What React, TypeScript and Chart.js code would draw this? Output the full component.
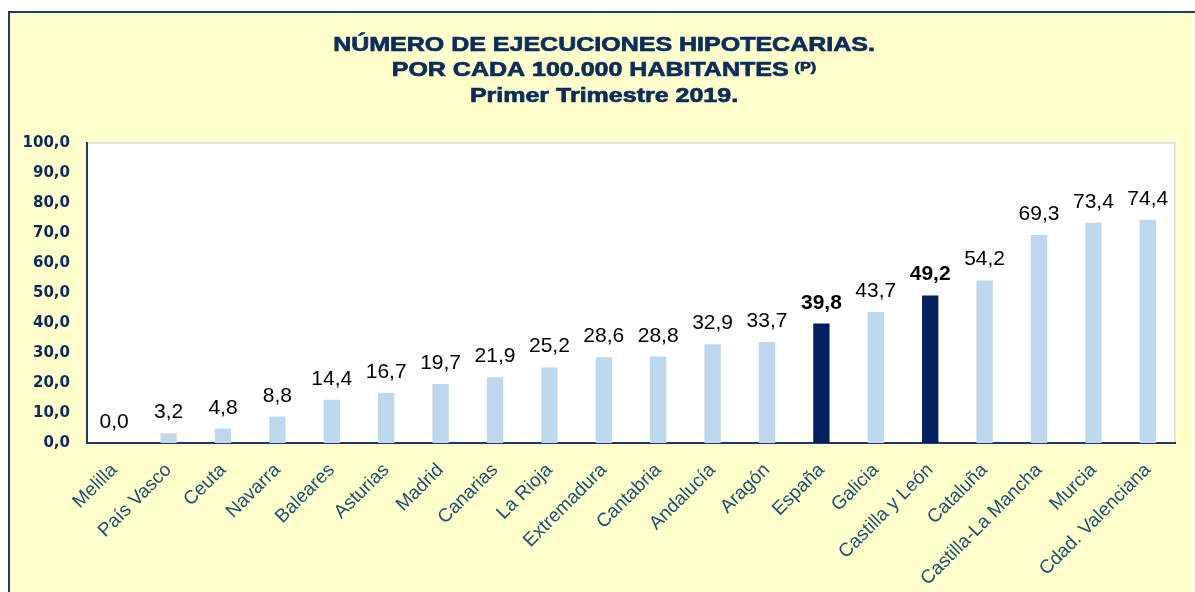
import React, { useEffect, useRef } from "react";
import { Chart, registerables } from "chart.js";

Chart.register(...registerables);

const categories = [
  "Melilla", "País Vasco", "Ceuta", "Navarra", "Baleares", "Asturias", "Madrid",
  "Canarias", "La Rioja", "Extremadura", "Cantabria", "Andalucía", "Aragón",
  "España", "Galicia", "Castilla y León", "Cataluña", "Castilla-La Mancha",
  "Murcia", "Cdad. Valenciana",
];
const values = [
  0.0, 3.2, 4.8, 8.8, 14.4, 16.7, 19.7, 21.9, 25.2, 28.6, 28.8, 32.9, 33.7,
  39.8, 43.7, 49.2, 54.2, 69.3, 73.4, 74.4,
];
const highlighted = ["España", "Castilla y León"];
const yTicks = [0, 10, 20, 30, 40, 50, 60, 70, 80, 90, 100];
const titleLines = ["NÚMERO DE EJECUCIONES HIPOTECARIAS.", "POR CADA 100.000 HABITANTES", "Primer Trimestre 2019."];
const titleSup = "(P)";

const LIGHT = "#BDD7EE";
const DARK = "#002060";
const NAVY = "#1F3864";

const fmt = (v: number) => v.toFixed(1).replace(".", ",");

const backgroundPlugin = {
  id: "bgPlugin",
  beforeDraw(chart: any) {
    const { ctx, chartArea } = chart;
    ctx.save();
    ctx.fillStyle = "#ffffff";
    ctx.fillRect(0, 0, chart.width, chart.height);
    ctx.fillStyle = "#FFFFCC";
    ctx.fillRect(8, 11, 1185, chart.height - 11);
    ctx.fillStyle = NAVY;
    ctx.fillRect(8, 11, 1187, 2);
    ctx.fillRect(8, 11, 2, chart.height - 11);
    ctx.fillStyle = "#ffffff";
    ctx.fillRect(chartArea.left, chartArea.top, chartArea.right - chartArea.left, chartArea.bottom - chartArea.top);
    ctx.strokeStyle = "#D9D9D9";
    ctx.lineWidth = 1.5;
    ctx.beginPath();
    ctx.moveTo(chartArea.left, chartArea.top);
    ctx.lineTo(chartArea.right, chartArea.top);
    ctx.lineTo(chartArea.right, chartArea.bottom);
    ctx.stroke();
    ctx.restore();
  },
};

const titlePlugin = {
  id: "titlePlugin",
  afterDraw(chart: any) {
    const ctx = chart.ctx;
    const cx = 604;
    const s = 1.25;
    ctx.save();
    ctx.fillStyle = "#0B2D5E";
    ctx.strokeStyle = "#0B2D5E";
    ctx.lineWidth = 0.7;
    ctx.textBaseline = "alphabetic";
    ctx.textAlign = "left";
    const font = "bold 20px 'Liberation Sans', Arial, sans-serif";
    const supFont = "bold 13px 'Liberation Sans', Arial, sans-serif";
    const drawScaled = (t: string, x: number, y: number) => {
      ctx.save();
      ctx.translate(x, y);
      ctx.scale(s, 1);
      ctx.fillText(t, 0, 0);
      ctx.strokeText(t, 0, 0);
      ctx.restore();
    };
    ctx.font = font;
    let w = ctx.measureText(titleLines[0]).width * s;
    drawScaled(titleLines[0], cx - w / 2, 51);
    const w2 = ctx.measureText(titleLines[1]).width * s;
    ctx.font = supFont;
    const ws = ctx.measureText(titleSup).width * s;
    const gap = 6;
    const start = cx - (w2 + gap + ws) / 2;
    ctx.font = font;
    drawScaled(titleLines[1], start, 76);
    ctx.font = supFont;
    drawScaled(titleSup, start + w2 + gap, 71);
    ctx.font = font;
    w = ctx.measureText(titleLines[2]).width * s;
    drawScaled(titleLines[2], cx - w / 2, 102);
    ctx.restore();
  },
};

const dataLabelPlugin = {
  id: "dataLabelPlugin",
  afterDatasetsDraw(chart: any) {
    const ctx = chart.ctx;
    const meta = chart.getDatasetMeta(0);
    ctx.save();
    ctx.fillStyle = "#000000";
    ctx.textAlign = "center";
    ctx.textBaseline = "alphabetic";
    meta.data.forEach((bar: any, i: number) => {
      const bold = highlighted.includes(categories[i]);
      ctx.font = (bold ? "bold " : "") + "21px 'Liberation Sans', Arial, sans-serif";
      ctx.fillText(fmt(values[i]), bar.x, bar.y - 15);
    });
    ctx.restore();
  },
};

export default function App() {
  const ref = useRef<HTMLCanvasElement | null>(null);
  useEffect(() => {
    if (!ref.current) return;
    const chart = new Chart(ref.current, {
      type: "bar",
      data: {
        labels: categories,
        datasets: [
          {
            data: values,
            backgroundColor: categories.map((c) => (highlighted.includes(c) ? DARK : LIGHT)),
            barPercentage: 0.3,
            categoryPercentage: 1.0,
          },
        ],
      },
      options: {
        responsive: false,
        animation: false,
        layout: { padding: { top: 143, right: 20, left: 0, bottom: 0 } },
        plugins: {
          legend: { display: false },
          title: { display: false },
          tooltip: { enabled: false },
        },
        scales: {
          x: {
            grid: { display: false, drawTicks: false },
            border: { display: true, color: NAVY, width: 2 },
            ticks: {
              autoSkip: false,
              maxRotation: 45,
              minRotation: 45,
              padding: 16,
              labelOffset: 0,
              color: "#1F4E79",
              font: { family: "'Liberation Sans', Arial, sans-serif", size: 19 },
            },
            afterFit(scale: any) {
              scale.height = 149;
            },
          },
          y: {
            min: 0,
            max: 100,
            afterBuildTicks(scale: any) {
              scale.ticks = yTicks.map((v) => ({ value: v }));
            },
            grid: { display: false, drawTicks: false },
            border: { display: true, color: NAVY, width: 2 },
            ticks: {
              padding: 17,
              color: "#0D2A5C",
              font: { family: "'DejaVu Sans', sans-serif", size: 15, weight: "bold" },
              callback: (v: any) => fmt(Number(v)),
            },
            afterFit(scale: any) {
              scale.width = 87;
            },
          },
        },
      },
      plugins: [backgroundPlugin, dataLabelPlugin, titlePlugin],
    });
    return () => chart.destroy();
  }, []);
  return (
    <canvas
      ref={ref}
      width={1195}
      height={592}
      style={{ position: "absolute", left: 0, top: 0, width: 1195, height: 592 }}
    />
  );
}
